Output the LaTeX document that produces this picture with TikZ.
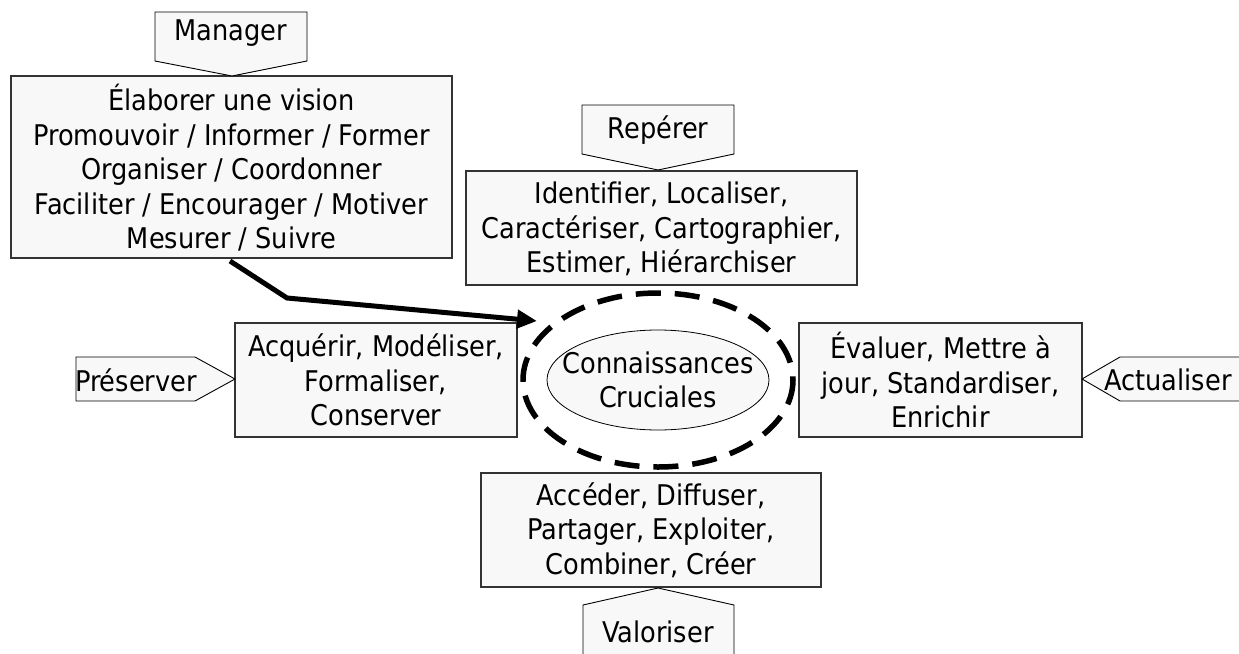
\documentclass[tikz,border=0pt]{standalone}
\usepackage{fontspec}
\setmainfont{DejaVu Sans Condensed}
\usetikzlibrary{arrows.meta,shapes.geometric}
\definecolor{boxfill}{HTML}{F8F8F8}
\begin{document}
\begin{tikzpicture}[x=1pt,y=-1pt,
  txt/.style={font=\fontsize{28.5}{34.5}\selectfont, align=center, inner sep=0pt},
  panel/.style={draw=black!80, line width=1.2pt, fill=boxfill},
  tag/.style={draw=black, line width=0.9pt, fill=boxfill},
  ring/.style={draw=black, line width=5.5pt, dash pattern=on 25pt off 14pt}]
\useasboundingbox (0,0) rectangle (1239,653);

% Manager box and its tag
\draw[panel] (11,76) rectangle (452,258);
\node[txt] (mgr) at (231.5,168) {Élaborer une vision\\Promouvoir / Informer / Former\\Organiser / Coordonner\\Faciliter / Encourager / Motiver\\Mesurer / Suivre};
\draw[tag] (155,12) -- (307,12) -- (307,61) -- (232,76) -- (155,61) -- cycle;
\node[txt] (mgrtag) at (231,33) {Manager};

% Repérer
\draw[panel] (466,171) rectangle (857,285);
\node[txt] (rep) at (661.5,229) {Identifier, Localiser,\\Caractériser, Cartographier,\\Estimer, Hiérarchiser};
\draw[tag] (582,105) -- (734,105) -- (734,154) -- (658,170) -- (582,154) -- cycle;
\node[txt] (reptag) at (658,130) {Repérer};

% Préserver
\draw[panel] (235,323) rectangle (517,437);
\node[txt] (pre) at (376,380) {Acquérir, Modéliser,\\Formaliser,\\Conserver};
\draw[tag] (76,357) -- (195,357) -- (235,379) -- (195,401) -- (76,401) -- cycle;
\node[txt] (pretag) at (136,380) {Préserver};

% Actualiser
\draw[panel] (799,323) rectangle (1082,437);
\node[txt] (act) at (940.5,380) {Évaluer, Mettre à\\jour, Standardiser,\\Enrichir};
\draw[tag] (1082,379) -- (1120,357) -- (1240,357) -- (1240,401) -- (1120,401) -- cycle;
\node[txt] (acttag) at (1168,380) {Actualiser};

% Valoriser
\draw[panel] (481,473) rectangle (821,587);
\node[txt] (val) at (651,530) {Accéder, Diffuser,\\Partager, Exploiter,\\Combiner, Créer};
\draw[tag] (658,588) -- (734,605) -- (734,660) -- (583,660) -- (583,605) -- cycle;
\node[txt] (valtag) at (658,632) {Valoriser};

% Central knowledge
\draw[draw=black, line width=0.8pt, fill=boxfill] (658,380) ellipse [x radius=111, y radius=50];
\node[txt] (core) at (658,380) {Connaissances\\Cruciales};
\draw[ring] (658,380) ellipse [x radius=135, y radius=87];

% Management arrow
\coordinate (start) at (230,261);
\coordinate (bend) at (287,298);
\coordinate (tip) at (537,321);
\draw[line width=5pt, -{Triangle[length=20pt,width=18pt]}] (start) -- (bend) -- (tip);
\end{tikzpicture}
\end{document}
